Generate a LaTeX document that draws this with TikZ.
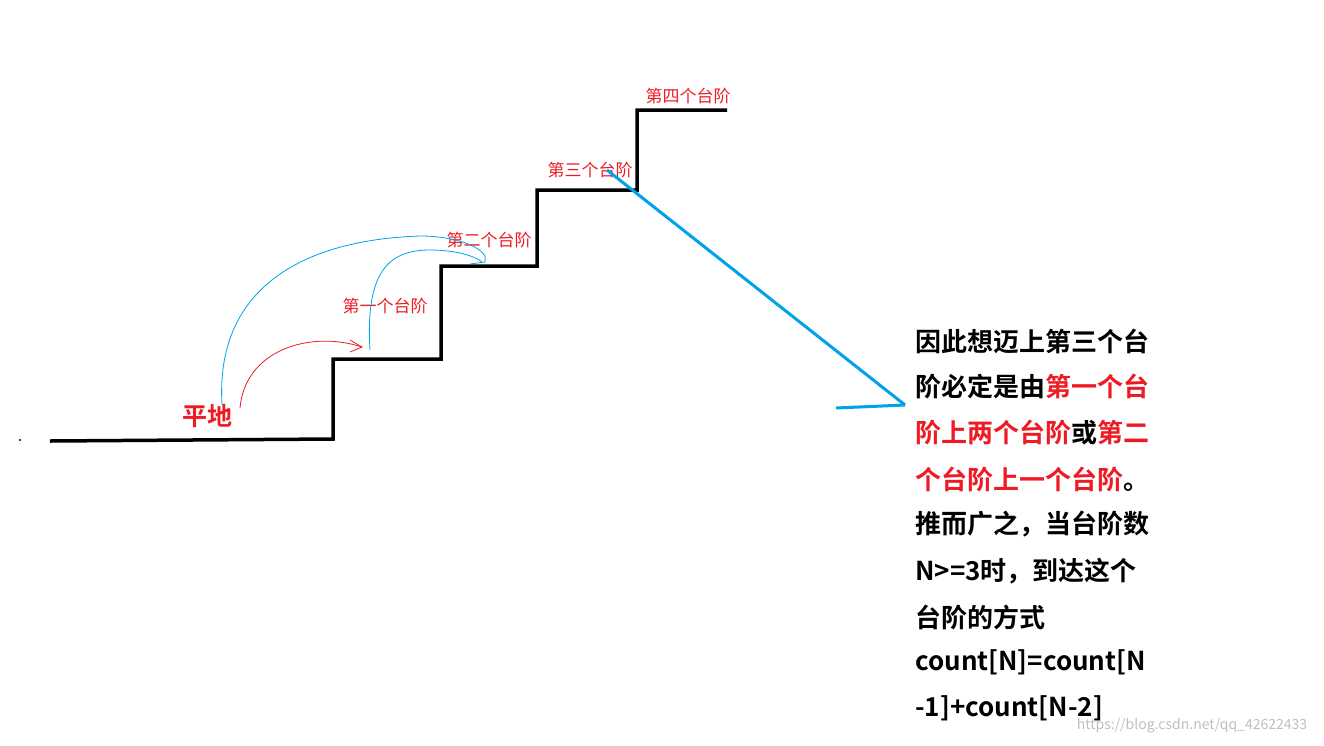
\documentclass[tikz,border=0pt]{standalone}
\usepackage{fontspec}
\newfontfamily\cjk{Noto Sans CJK SC}
\newfontfamily\cjkb{Noto Sans CJK SC Bold}
\definecolor{skyblue}{RGB}{0,162,232}
\definecolor{redtext}{RGB}{237,28,36}
\begin{document}
\begin{tikzpicture}
          [x=1pt,y=-1pt,every node/.style={inner sep=0pt},
           steplabel/.style={text=redtext,font=\cjk\fontsize{17}{17}\selectfont},
           textline/.style={anchor=west,font=\cjkb\fontsize{26}{26}\selectfont},
           sky/.style={draw=skyblue,line width=0.8pt}]

          \useasboundingbox (0,0) rectangle (1324,745);

          \draw[line width=3.5pt] (50,441) -- (333,439) -- (333,359) -- (441,359) -- (441,266)
            -- (537,266) -- (537,190) -- (637,190) -- (637,110) -- (727,110);
          \fill (20,440) circle (1.2pt);

          \node[text=redtext,font=\cjkb\fontsize{25}{25}\selectfont] (ground) at (207,416) {平地};
          \node[steplabel] (s1) at (385,306) {第一个台阶};
          \node[steplabel] (s2) at (489,240) {第二个台阶};
          \node[steplabel] (s3) at (590,170) {第三个台阶};
          \node[steplabel] (s4) at (688,96) {第四个台阶};

          % jumps
          \draw[redtext,line width=0.8pt] (240,408) .. controls (245,350) and (310,330) .. (362,347);
          \draw[redtext,line width=0.8pt] (350,340) -- (362,347) -- (350,352);
          \draw[sky] (222,405) .. controls (215,290) and (300,240) .. (420,236)
            .. controls (460,236) and (490,250) .. (485,262) -- (470,264);
          \draw[sky] (370,350) .. controls (365,270) and (390,250) .. (430,250)
            .. controls (460,250) and (478,258) .. (482,262);

          \coordinate (tip) at (905,405);
          \coordinate (tail) at (836,408);
          \draw[skyblue,line width=3pt] (607,170) -- (tip);
          \draw[skyblue,line width=3pt] (tail) -- (tip);

          \node[textline] (t1) at (915,341) {因此想迈上第三个台};
          \node[textline] (t2) at (915,386) {阶必定是由\textcolor{redtext}{第一个台}};
          \node[textline] (t3) at (915,432) {\textcolor{redtext}{阶上两个台阶}或\textcolor{redtext}{第二}};
          \node[textline] (t4) at (915,479) {\textcolor{redtext}{个台阶上一个台阶}。};
          \node[textline] (t5) at (915,524) {推而广之，当台阶数};
          \node[textline] (t6) at (915,571) {N>=3时，到达这个};
          \node[textline] (t7) at (915,617) {台阶的方式};
          \node[textline] (t8) at (915,662) {count[N]=count[N};
          \node[textline] (t9) at (915,708) {-1]+count[N-2]};

          \node[text=gray!50,font=\cjk\fontsize{14}{14}\selectfont] (mark) at (1192,726) {https://blog.csdn.net/qq\_42622433};
        \end{tikzpicture}
\end{document}
